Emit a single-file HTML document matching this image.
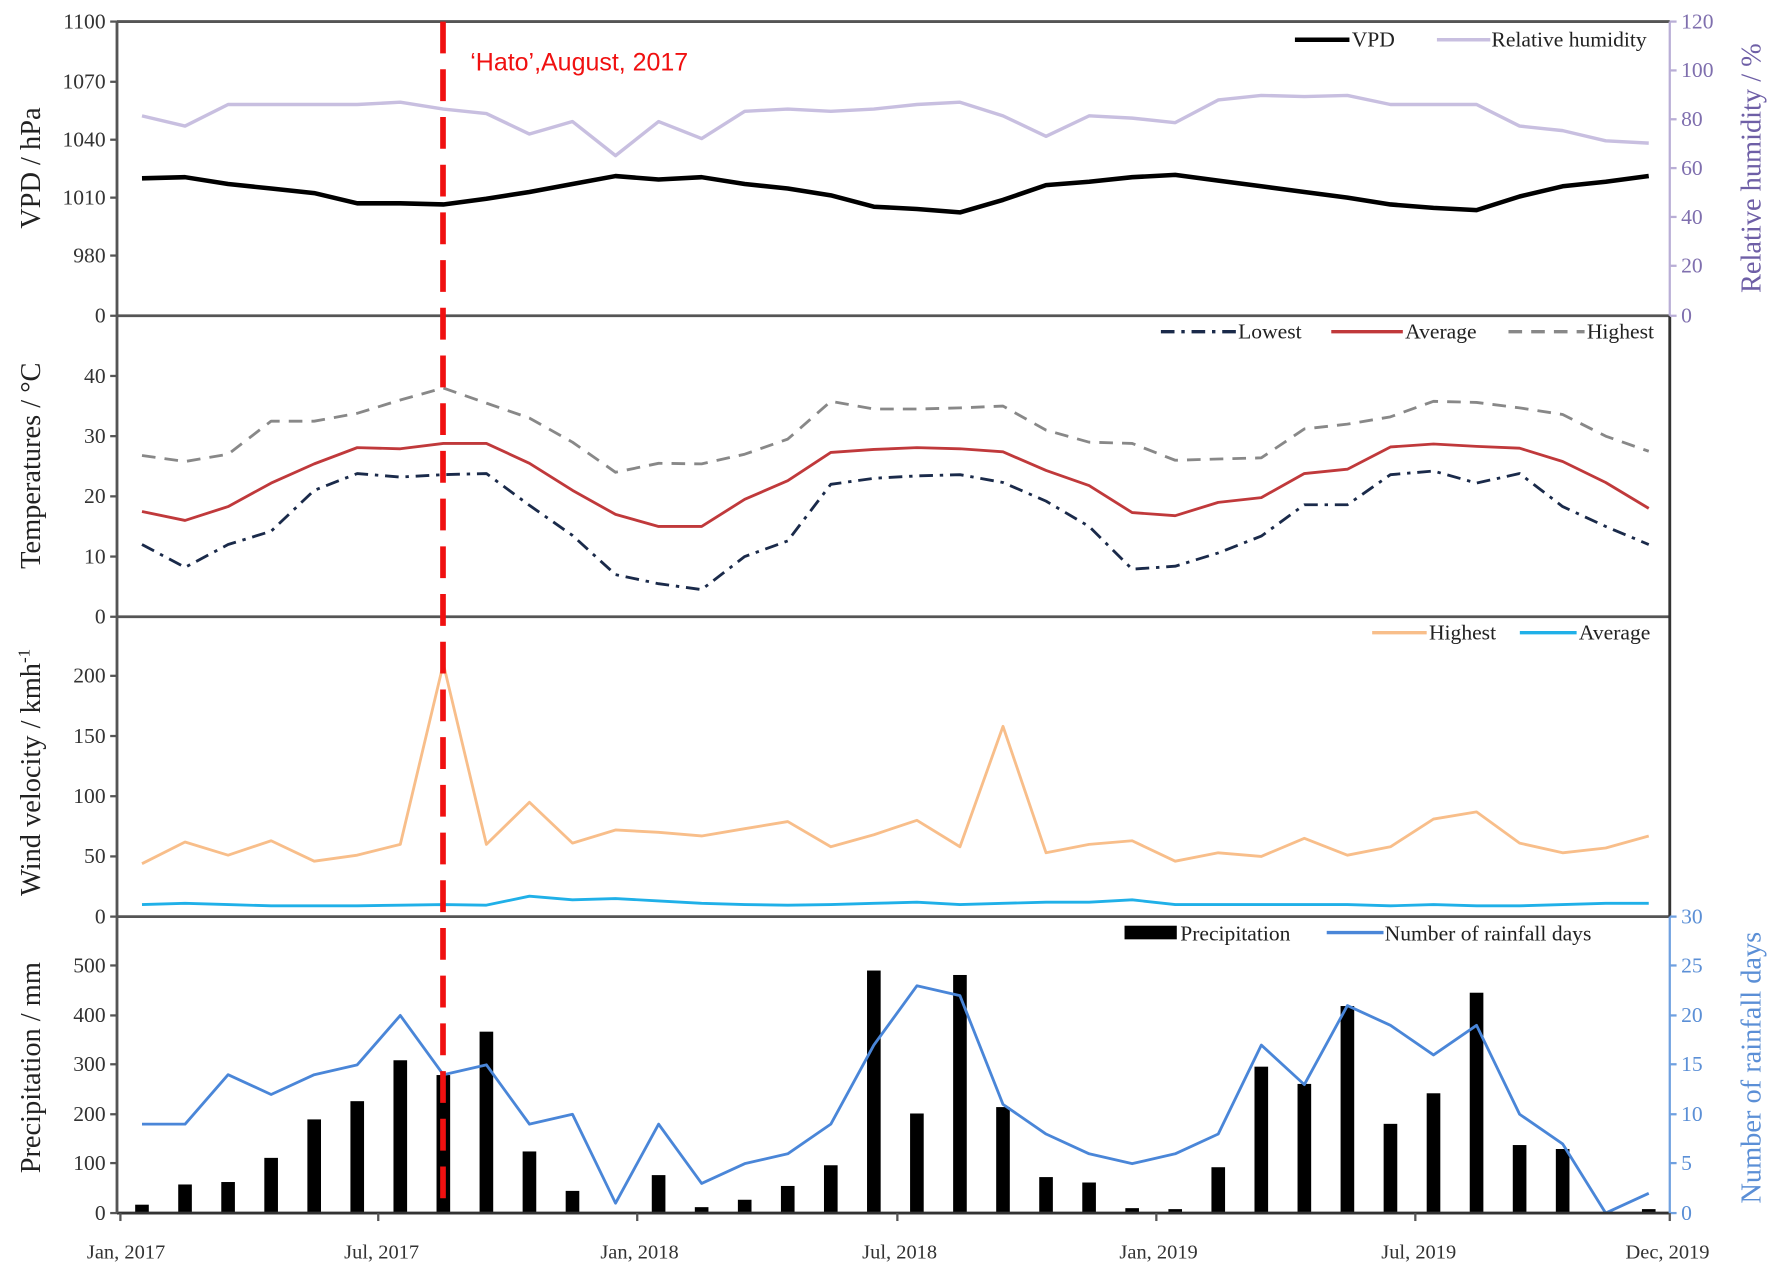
<!DOCTYPE html>
<html><head><meta charset="utf-8"><style>
html,body{margin:0;padding:0;background:#fff;}
svg{display:block;}
text{font-family:"Liberation Serif",serif;}
</style></head><body>
<svg id="s" width="1772" height="1271" viewBox="0 0 1560 1119" preserveAspectRatio="none" xmlns="http://www.w3.org/2000/svg">
<rect width="1560" height="1119" fill="#fff"/>
<g id="data"></g>
<!-- frames -->
<g stroke="#555" stroke-width="2.5" fill="none">
<line x1="103" y1="19" x2="1470" y2="19"/>
<line x1="103" y1="278" x2="1470" y2="278"/>
<line x1="103" y1="543" x2="1470" y2="543"/>
<line x1="103" y1="807" x2="1470" y2="807"/>
<line x1="103" y1="1068" x2="1470" y2="1068" stroke="#333"/>
<line x1="103" y1="19" x2="103" y2="1068"/>
<line x1="1470" y1="278" x2="1470" y2="807" stroke="#333"/>
</g>
<line x1="1470" y1="19" x2="1470" y2="278" stroke="#b9aed6" stroke-width="2"/>
<line x1="1470" y1="807" x2="1470" y2="1068" stroke="#6fa0e0" stroke-width="2"/>
<g id="ticks" stroke="#555" stroke-width="2"></g>
<!-- left tick labels -->
<g font-size="19" fill="#333" text-anchor="end">
<text x="93" y="25">1100</text><text x="93" y="78">1070</text><text x="93" y="129">1040</text><text x="93" y="180">1010</text><text x="93" y="231">980</text><text x="93" y="284">0</text>
<text x="93" y="337">40</text><text x="93" y="390">30</text><text x="93" y="443">20</text><text x="93" y="496">10</text><text x="93" y="549">0</text>
<text x="93" y="601">200</text><text x="93" y="654">150</text><text x="93" y="707">100</text><text x="93" y="760">50</text><text x="93" y="813">0</text>
<text x="93" y="856">500</text><text x="93" y="900">400</text><text x="93" y="943">300</text><text x="93" y="987">200</text><text x="93" y="1030">100</text><text x="93" y="1074">0</text>
</g>
<g font-size="19" fill="#7f6fae">
<text x="1480" y="25">120</text><text x="1480" y="68">100</text><text x="1480" y="111">80</text><text x="1480" y="154">60</text><text x="1480" y="197">40</text><text x="1480" y="240">20</text><text x="1480" y="284">0</text>
</g>
<g font-size="19" fill="#5b8fd6">
<text x="1480" y="813">30</text><text x="1480" y="856">25</text><text x="1480" y="900">20</text><text x="1480" y="943">15</text><text x="1480" y="987">10</text><text x="1480" y="1030">5</text><text x="1480" y="1074">0</text>
</g>
<!-- x labels -->
<g font-size="18" fill="#333" text-anchor="middle">
<text x="111" y="1108">Jan, 2017</text><text x="336" y="1108">Jul, 2017</text><text x="563" y="1108">Jan, 2018</text><text x="792" y="1108">Jul, 2018</text><text x="1020" y="1108">Jan, 2019</text><text x="1249" y="1108">Jul, 2019</text><text x="1468" y="1108">Dec, 2019</text>
</g>
<!-- axis titles -->
<g font-size="25" fill="#222" text-anchor="middle">
<text transform="translate(35,148) rotate(-90)">VPD / hPa</text>
<text transform="translate(35,410) rotate(-90)">Temperatures / °C</text>
<text transform="translate(35,680) rotate(-90)">Wind velocity / kmh<tspan font-size="15" dy="-9">-1</tspan></text>
<text transform="translate(35,940) rotate(-90)">Precipitation / mm</text>
</g>
<text transform="translate(1550,148) rotate(-90)" font-size="25" fill="#6e5fa6" text-anchor="middle">Relative humidity / %</text>
<text transform="translate(1550,940) rotate(-90)" font-size="25" fill="#5b8fd6" text-anchor="middle">Number of rainfall days</text>
<!-- Hato -->
<line x1="390" y1="19" x2="390" y2="1068" stroke="#f01010" stroke-width="5" stroke-dasharray="28,14"/>
<text x="414" y="62" font-family="Liberation Sans,sans-serif" font-size="22" fill="#f01010" style="font-family:'Liberation Sans',sans-serif">‘Hato’,August, 2017</text>
<!-- legends -->
<g font-size="19" fill="#222">
<line x1="1140" y1="35" x2="1188" y2="35" stroke="#000" stroke-width="4"/><text x="1190" y="41">VPD</text>
<line x1="1265" y1="35" x2="1312" y2="35" stroke="#c8bfe0" stroke-width="3"/><text x="1313" y="41">Relative humidity</text>
<line x1="1022" y1="292" x2="1088" y2="292" stroke="#1a2a4a" stroke-width="3" stroke-dasharray="12,6,3,6"/><text x="1090" y="298">Lowest</text>
<line x1="1172" y1="292" x2="1235" y2="292" stroke="#c0393b" stroke-width="3"/><text x="1237" y="298">Average</text>
<line x1="1328" y1="292" x2="1395" y2="292" stroke="#888" stroke-width="3" stroke-dasharray="12,8"/><text x="1397" y="298">Highest</text>
<line x1="1208" y1="557" x2="1256" y2="557" stroke="#f8be8a" stroke-width="3"/><text x="1258" y="563">Highest</text>
<line x1="1338" y1="557" x2="1388" y2="557" stroke="#20b0e8" stroke-width="3"/><text x="1390" y="563">Average</text>
<rect x="990" y="815" width="46" height="12" fill="#000"/><text x="1039" y="828">Precipitation</text>
<line x1="1168" y1="821" x2="1218" y2="821" stroke="#4a86d8" stroke-width="3"/><text x="1219" y="828">Number of rainfall days</text>
</g>
</svg>
<script>
var X=function(i){return 125+37.9*i;};
var rh=[102,111,92,92,92,92,90,96,100,118,107,137,107,122,98,96,98,96,92,90,102,120,102,104,108,88,84,85,84,92,92,92,111,115,124,126];
var vpd=[157,156,162,166,170,179,179,180,175,169,162,155,158,156,162,166,172,182,184,187,176,163,160,156,154,159,164,169,174,180,183,185,173,164,160,155];
var th=[26.8,25.8,27,32.5,32.5,33.8,36,38,35.5,33,29,24,25.5,25.4,27,29.5,35.8,34.5,34.5,34.7,35,31,29,28.8,26,26.2,26.4,31.2,32,33.2,35.8,35.6,34.7,33.6,30,27.5];
var ta=[17.5,16,18.3,22.2,25.4,28.1,27.9,28.8,28.8,25.5,21,17,15,15,19.5,22.6,27.3,27.8,28.1,27.9,27.4,24.3,21.8,17.3,16.8,19,19.8,23.8,24.5,28.2,28.7,28.3,28,25.8,22.3,18];
var tl=[12,8.2,12,14.2,21,23.8,23.2,23.6,23.8,18.5,13.5,7,5.5,4.5,10,12.6,22,23,23.4,23.6,22.3,19.2,15,7.9,8.4,10.6,13.4,18.6,18.6,23.6,24.2,22.2,23.8,18.3,15,12];
var wh=[44,62,51,63,46,51,60,210,60,95,61,72,70,67,73,79,58,68,80,58,158,53,60,63,46,53,50,65,51,58,81,87,61,53,57,67];
var wa=[10,11,10,9,9,9,9.5,10,9.5,17,14,15,13,11,10,9.5,10,11,12,10,11,12,12,14,10,10,10,10,10,9,10,9,9,10,11,11];
var pr=[17,58,63,112,190,227,310,280,368,125,45,2,77,12,27,55,97,492,202,483,215,73,62,10,8,93,297,262,420,181,243,447,138,130,0,8];
var rd=[9,9,14,12,14,15,20,14,15,9,10,1,9,3,5,6,9,17,23,22,11,8,6,5,6,8,17,13,21,19,16,19,10,7,0,2];
var g=document.getElementById('data'),NS='http://www.w3.org/2000/svg';
function el(t,a){var e=document.createElementNS(NS,t);for(var k in a)e.setAttribute(k,a[k]);g.appendChild(e);return e;}
function line(arr,f,attrs){var p=arr.map(function(v,i){return X(i).toFixed(1)+','+f(v).toFixed(1);}).join(' ');attrs.points=p;attrs.fill='none';attrs['stroke-linejoin']='round';el('polyline',attrs);}
pr.forEach(function(v,i){var h=v*0.434;if(h<1)return;el('rect',{x:X(i)-6,y:1068-h,width:12,height:h,fill:'#000'});});
line(rh,function(v){return v;},{stroke:'#c8bfe0','stroke-width':3});
line(vpd,function(v){return v;},{stroke:'#000','stroke-width':4});
line(th,function(v){return 543-v*5.3;},{stroke:'#888','stroke-width':2.5,'stroke-dasharray':'12,8'});
line(ta,function(v){return 543-v*5.3;},{stroke:'#c0393b','stroke-width':2.5});
line(tl,function(v){return 543-v*5.3;},{stroke:'#1a2a4a','stroke-width':2.5,'stroke-dasharray':'12,6,3,6'});
line(wh,function(v){return 807-v*1.06;},{stroke:'#f8be8a','stroke-width':2.5});
line(wa,function(v){return 807-v*1.06;},{stroke:'#20b0e8','stroke-width':2.5});
line(rd,function(v){return 1068-v*8.7;},{stroke:'#4a86d8','stroke-width':2.5});
var tk=document.getElementById('ticks');
[19,72,123,174,225,278,331,384,437,490,543,595,648,701,754,807,850,894,937,981,1024,1068].forEach(function(y){var e=document.createElementNS(NS,'line');e.setAttribute('x1',97);e.setAttribute('x2',103);e.setAttribute('y1',y);e.setAttribute('y2',y);tk.appendChild(e);});
[19,62,105,148,191,234,278,807,850,894,937,981,1024,1068].forEach(function(y){var e=document.createElementNS(NS,'line');e.setAttribute('x1',1470);e.setAttribute('x2',1476);e.setAttribute('y1',y);e.setAttribute('y2',y);e.setAttribute('stroke',y<300?'#b9aed6':'#6fa0e0');tk.appendChild(e);});
[106,333,561,790,1018,1246,1470].forEach(function(x){var e=document.createElementNS(NS,'line');e.setAttribute('x1',x);e.setAttribute('x2',x);e.setAttribute('y1',1068);e.setAttribute('y2',1075);tk.appendChild(e);});
</script>
</body></html>
